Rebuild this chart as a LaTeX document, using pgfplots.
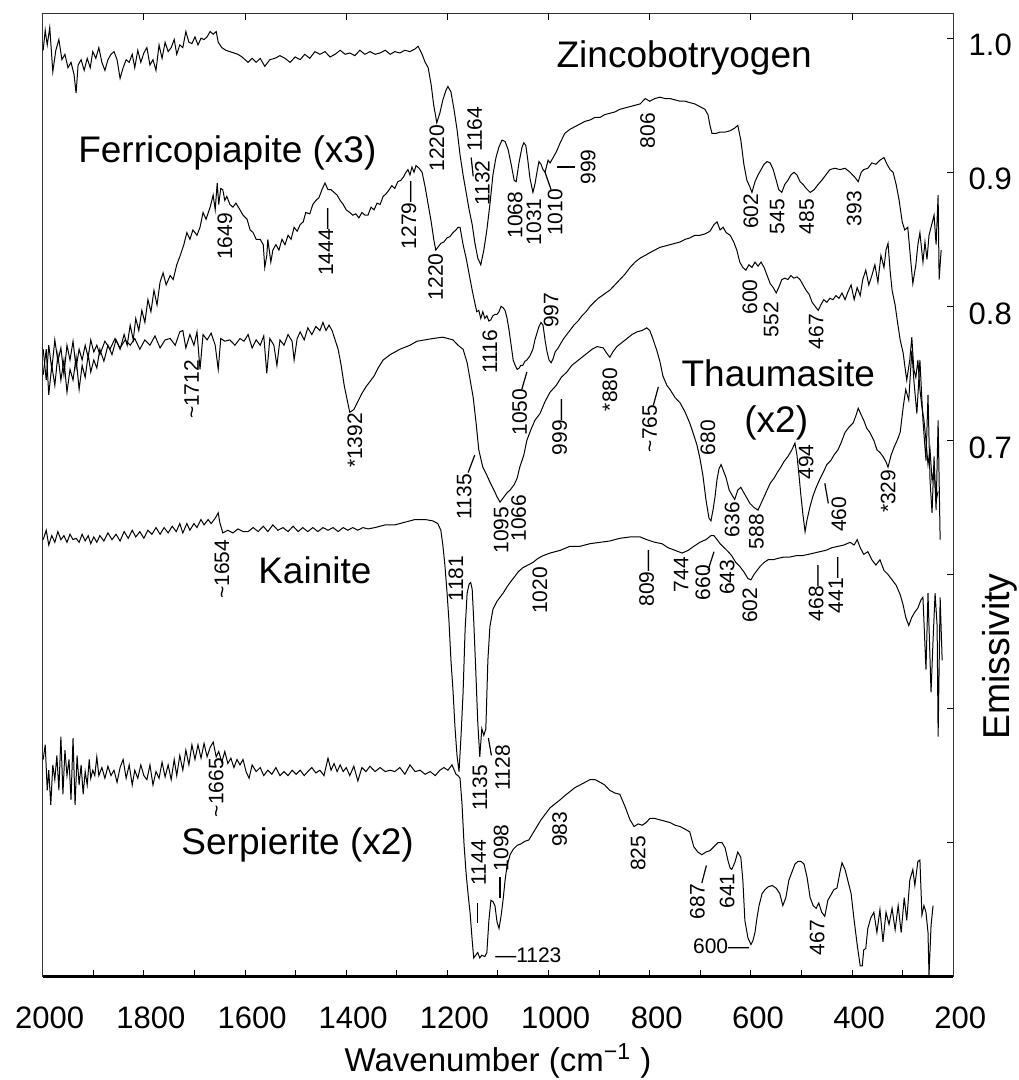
\documentclass[border=0pt]{standalone}
\usepackage{fontspec}
\setmainfont{Liberation Sans}
\usepackage{pgfplots}
\pgfplotsset{compat=1.18}
\usepackage{pgfplotstable}

\newcommand\tk{\fontsize{15.5}{18}\selectfont}
\newcommand\pk{\fontsize{10.5}{12}\selectfont}
\newcommand\spc{\fontsize{18.5}{22}\selectfont}
\newcommand\xl{\fontsize{16.5}{20}\selectfont}
\newcommand\yl{\fontsize{18.7}{22}\selectfont}

\tikzset{
  pk/.style={font=\pk, rotate=90, inner sep=0pt, anchor=center},
  pkh/.style={font=\pk, inner sep=0pt, anchor=center},
  ld/.style={black, line width=0.6pt},
  sp/.style={font=\spc, inner sep=0pt, anchor=base},
}

\pgfplotstableread[row sep=\\]{w E\\
1999 0.991\\ 1995 1.006\\ 1991 0.995\\ 1986 1.008\\ 1980 0.975\\ 1974 0.991\\ 1968 0.999\\ 1962 0.984\\ 1956 0.988\\ 1950 0.978\\ 1944 0.982\\ 1938 0.973\\ 1934 0.959\\ 1930 0.980\\ 1924 0.984\\ 1918 0.976\\ 1912 0.985\\ 1906 0.978\\ 1901 0.990\\ 1895 0.985\\ 1889 0.993\\ 1883 0.982\\ 1877 0.976\\ 1871 0.984\\ 1865 0.988\\ 1859 0.990\\ 1853 0.984\\ 1847 0.970\\ 1841 0.978\\ 1835 0.984\\ 1829 0.982\\ 1823 0.988\\ 1818 0.978\\ 1812 0.991\\ 1806 0.982\\ 1800 0.989\\ 1794 0.993\\ 1788 0.980\\ 1782 0.984\\ 1776 0.976\\ 1770 0.995\\ 1764 0.985\\ 1758 0.997\\ 1752 0.990\\ 1746 0.993\\ 1740 0.999\\ 1735 0.988\\ 1729 0.995\\ 1723 0.993\\ 1717 1.005\\ 1711 0.997\\ 1705 0.996\\ 1699 1.001\\ 1693 0.995\\ 1687 1.000\\ 1681 0.999\\ 1675 1.001\\ 1669 1.005\\ 1663 1.003\\ 1657 1.005\\ 1653 0.997\\ 1646 0.993\\ 1638 0.991\\ 1630 0.990\\ 1622 0.989\\ 1614 0.988\\ 1606 0.986\\ 1594 0.982\\ 1586 0.985\\ 1578 0.982\\ 1570 0.985\\ 1561 0.979\\ 1551 0.984\\ 1541 0.985\\ 1531 0.987\\ 1521 0.985\\ 1511 0.982\\ 1501 0.986\\ 1491 0.984\\ 1482 0.988\\ 1472 0.985\\ 1462 0.990\\ 1452 0.988\\ 1442 0.990\\ 1432 0.986\\ 1422 0.988\\ 1412 0.991\\ 1402 0.988\\ 1393 0.989\\ 1383 0.987\\ 1373 0.991\\ 1363 0.988\\ 1353 0.990\\ 1343 0.988\\ 1333 0.989\\ 1323 0.991\\ 1313 0.988\\ 1304 0.990\\ 1294 0.989\\ 1284 0.991\\ 1274 0.990\\ 1264 0.992\\ 1258 0.994\\ 1250 0.988\\ 1244 0.982\\ 1238 0.978\\ 1232 0.965\\ 1227 0.950\\ 1221 0.937\\ 1215 0.944\\ 1209 0.954\\ 1203 0.961\\ 1199 0.964\\ 1193 0.960\\ 1187 0.947\\ 1181 0.932\\ 1175 0.913\\ 1169 0.898\\ 1163 0.885\\ 1157 0.872\\ 1151 0.861\\ 1146 0.848\\ 1140 0.836\\ 1134 0.831\\ 1128 0.842\\ 1122 0.857\\ 1116 0.876\\ 1110 0.898\\ 1104 0.911\\ 1098 0.919\\ 1092 0.924\\ 1086 0.923\\ 1080 0.917\\ 1074 0.906\\ 1068 0.894\\ 1064 0.893\\ 1059 0.906\\ 1053 0.918\\ 1049 0.922\\ 1045 0.920\\ 1041 0.909\\ 1037 0.896\\ 1031 0.885\\ 1027 0.891\\ 1023 0.900\\ 1019 0.908\\ 1015 0.906\\ 1011 0.902\\ 1007 0.900\\ 1001 0.909\\ 997 0.907\\ 991 0.911\\ 985 0.915\\ 977 0.922\\ 968 0.929\\ 958 0.932\\ 948 0.934\\ 938 0.936\\ 928 0.938\\ 918 0.939\\ 908 0.941\\ 898 0.941\\ 889 0.943\\ 879 0.944\\ 869 0.945\\ 859 0.947\\ 849 0.948\\ 839 0.949\\ 829 0.950\\ 819 0.951\\ 809 0.955\\ 800 0.953\\ 790 0.955\\ 780 0.956\\ 770 0.955\\ 760 0.955\\ 750 0.954\\ 740 0.953\\ 730 0.953\\ 721 0.952\\ 711 0.951\\ 701 0.949\\ 691 0.947\\ 685 0.943\\ 681 0.935\\ 677 0.929\\ 669 0.929\\ 661 0.930\\ 651 0.930\\ 641 0.931\\ 632 0.933\\ 626 0.935\\ 620 0.924\\ 614 0.906\\ 608 0.894\\ 602 0.889\\ 598 0.885\\ 592 0.893\\ 586 0.898\\ 580 0.902\\ 574 0.906\\ 568 0.908\\ 562 0.907\\ 556 0.902\\ 550 0.894\\ 545 0.887\\ 539 0.885\\ 533 0.891\\ 527 0.894\\ 521 0.898\\ 515 0.900\\ 509 0.898\\ 503 0.893\\ 497 0.891\\ 491 0.888\\ 483 0.885\\ 475 0.887\\ 467 0.891\\ 460 0.894\\ 452 0.898\\ 444 0.902\\ 434 0.903\\ 424 0.902\\ 414 0.903\\ 404 0.900\\ 394 0.896\\ 388 0.893\\ 382 0.900\\ 377 0.902\\ 369 0.903\\ 361 0.907\\ 353 0.906\\ 345 0.909\\ 337 0.911\\ 331 0.906\\ 325 0.902\\ 319 0.900\\ 313 0.891\\ 307 0.879\\ 301 0.863\\ 296 0.857\\ 290 0.859\\ 286 0.842\\ 280 0.817\\ 274 0.831\\ 270 0.846\\ 266 0.855\\ 260 0.833\\ 256 0.848\\ 252 0.835\\ 248 0.853\\ 244 0.859\\ 238 0.868\\ 234 0.846\\ 230 0.883\\ 228 0.820\\ 224 0.842\\
}\zinc

\pgfplotstableread[row sep=\\]{w E\\
1999 0.749\\ 1993 0.768\\ 1988 0.734\\ 1982 0.756\\ 1976 0.741\\ 1970 0.764\\ 1964 0.745\\ 1958 0.760\\ 1952 0.736\\ 1946 0.753\\ 1940 0.745\\ 1934 0.762\\ 1928 0.738\\ 1922 0.756\\ 1916 0.747\\ 1910 0.764\\ 1905 0.751\\ 1899 0.760\\ 1893 0.754\\ 1887 0.768\\ 1879 0.759\\ 1871 0.771\\ 1863 0.764\\ 1855 0.775\\ 1847 0.768\\ 1839 0.779\\ 1833 0.771\\ 1827 0.786\\ 1821 0.775\\ 1816 0.791\\ 1810 0.782\\ 1804 0.797\\ 1798 0.788\\ 1792 0.805\\ 1786 0.796\\ 1780 0.812\\ 1774 0.801\\ 1768 0.818\\ 1762 0.825\\ 1756 0.816\\ 1748 0.823\\ 1742 0.820\\ 1735 0.831\\ 1729 0.837\\ 1721 0.846\\ 1715 0.855\\ 1709 0.850\\ 1703 0.857\\ 1695 0.853\\ 1689 0.859\\ 1683 0.870\\ 1677 0.865\\ 1669 0.874\\ 1663 0.883\\ 1659 0.872\\ 1655 0.892\\ 1652 0.876\\ 1648 0.888\\ 1644 0.887\\ 1640 0.879\\ 1636 0.882\\ 1630 0.876\\ 1624 0.874\\ 1618 0.877\\ 1610 0.872\\ 1604 0.868\\ 1596 0.865\\ 1590 0.857\\ 1584 0.855\\ 1578 0.850\\ 1570 0.850\\ 1564 0.846\\ 1561 0.829\\ 1557 0.838\\ 1555 0.850\\ 1549 0.833\\ 1545 0.842\\ 1539 0.846\\ 1533 0.842\\ 1527 0.850\\ 1521 0.846\\ 1515 0.853\\ 1509 0.850\\ 1503 0.859\\ 1497 0.856\\ 1491 0.861\\ 1485 0.863\\ 1480 0.870\\ 1472 0.869\\ 1466 0.876\\ 1460 0.879\\ 1454 0.881\\ 1448 0.887\\ 1442 0.892\\ 1436 0.887\\ 1430 0.887\\ 1424 0.885\\ 1418 0.883\\ 1412 0.879\\ 1406 0.876\\ 1400 0.872\\ 1393 0.870\\ 1387 0.868\\ 1381 0.869\\ 1375 0.866\\ 1369 0.870\\ 1363 0.868\\ 1357 0.868\\ 1351 0.874\\ 1345 0.872\\ 1339 0.877\\ 1333 0.876\\ 1327 0.882\\ 1321 0.884\\ 1315 0.887\\ 1310 0.890\\ 1304 0.888\\ 1298 0.893\\ 1292 0.894\\ 1286 0.897\\ 1282 0.900\\ 1278 0.902\\ 1274 0.898\\ 1270 0.904\\ 1266 0.900\\ 1262 0.905\\ 1256 0.903\\ 1250 0.900\\ 1244 0.889\\ 1238 0.876\\ 1232 0.863\\ 1227 0.850\\ 1223 0.842\\ 1219 0.844\\ 1213 0.847\\ 1207 0.848\\ 1201 0.851\\ 1195 0.852\\ 1189 0.855\\ 1183 0.857\\ 1179 0.859\\ 1175 0.859\\ 1169 0.846\\ 1163 0.836\\ 1157 0.824\\ 1151 0.812\\ 1146 0.803\\ 1142 0.796\\ 1138 0.797\\ 1134 0.791\\ 1130 0.796\\ 1126 0.791\\ 1122 0.793\\ 1118 0.789\\ 1114 0.790\\ 1110 0.793\\ 1106 0.794\\ 1102 0.794\\ 1098 0.796\\ 1094 0.800\\ 1090 0.799\\ 1086 0.797\\ 1082 0.791\\ 1078 0.782\\ 1074 0.771\\ 1070 0.760\\ 1066 0.756\\ 1062 0.753\\ 1058 0.754\\ 1055 0.756\\ 1051 0.756\\ 1047 0.759\\ 1043 0.760\\ 1037 0.763\\ 1031 0.768\\ 1027 0.775\\ 1023 0.780\\ 1019 0.785\\ 1015 0.788\\ 1011 0.786\\ 1007 0.775\\ 1003 0.766\\ 999 0.760\\ 995 0.758\\ 991 0.761\\ 987 0.766\\ 981 0.769\\ 975 0.773\\ 970 0.776\\ 964 0.779\\ 958 0.782\\ 950 0.786\\ 942 0.789\\ 934 0.793\\ 926 0.796\\ 918 0.800\\ 910 0.803\\ 902 0.806\\ 894 0.808\\ 887 0.810\\ 879 0.812\\ 869 0.816\\ 859 0.820\\ 849 0.824\\ 839 0.829\\ 829 0.833\\ 819 0.836\\ 809 0.838\\ 800 0.840\\ 790 0.842\\ 780 0.844\\ 770 0.845\\ 760 0.846\\ 750 0.847\\ 740 0.848\\ 730 0.850\\ 721 0.851\\ 711 0.853\\ 701 0.853\\ 691 0.854\\ 681 0.856\\ 673 0.861\\ 667 0.863\\ 661 0.857\\ 655 0.859\\ 649 0.855\\ 641 0.853\\ 634 0.848\\ 628 0.842\\ 622 0.833\\ 616 0.829\\ 610 0.827\\ 604 0.831\\ 598 0.829\\ 592 0.833\\ 586 0.830\\ 580 0.833\\ 574 0.829\\ 568 0.823\\ 562 0.817\\ 556 0.814\\ 550 0.810\\ 544 0.815\\ 539 0.820\\ 533 0.821\\ 527 0.820\\ 521 0.823\\ 515 0.821\\ 509 0.822\\ 503 0.820\\ 497 0.816\\ 491 0.812\\ 485 0.809\\ 479 0.803\\ 473 0.800\\ 467 0.797\\ 462 0.801\\ 456 0.805\\ 450 0.803\\ 444 0.806\\ 438 0.805\\ 432 0.808\\ 426 0.806\\ 420 0.810\\ 414 0.805\\ 408 0.811\\ 402 0.816\\ 396 0.805\\ 390 0.814\\ 384 0.808\\ 379 0.820\\ 373 0.827\\ 367 0.816\\ 361 0.823\\ 355 0.831\\ 349 0.818\\ 343 0.838\\ 337 0.829\\ 333 0.842\\ 329 0.847\\ 325 0.827\\ 321 0.812\\ 315 0.801\\ 311 0.790\\ 305 0.775\\ 299 0.765\\ 296 0.756\\ 292 0.745\\ 286 0.760\\ 282 0.777\\ 278 0.753\\ 274 0.747\\ 270 0.760\\ 266 0.738\\ 262 0.725\\ 258 0.715\\ 254 0.700\\ 250 0.682\\ 246 0.693\\ 242 0.670\\ 238 0.678\\ 234 0.655\\ 230 0.662\\
}\ferri

\pgfplotstableread[row sep=\\]{w E\\
1999 0.768\\ 1993 0.745\\ 1988 0.771\\ 1982 0.753\\ 1976 0.775\\ 1970 0.759\\ 1964 0.769\\ 1958 0.749\\ 1952 0.771\\ 1946 0.760\\ 1940 0.774\\ 1934 0.754\\ 1928 0.768\\ 1922 0.760\\ 1916 0.771\\ 1910 0.762\\ 1905 0.775\\ 1899 0.766\\ 1893 0.771\\ 1887 0.764\\ 1877 0.774\\ 1867 0.768\\ 1857 0.776\\ 1847 0.769\\ 1837 0.775\\ 1827 0.771\\ 1818 0.776\\ 1808 0.768\\ 1798 0.775\\ 1788 0.771\\ 1778 0.778\\ 1768 0.769\\ 1758 0.775\\ 1748 0.776\\ 1738 0.771\\ 1729 0.781\\ 1723 0.782\\ 1717 0.769\\ 1709 0.779\\ 1701 0.771\\ 1695 0.781\\ 1689 0.753\\ 1683 0.779\\ 1675 0.775\\ 1667 0.780\\ 1659 0.771\\ 1653 0.753\\ 1648 0.776\\ 1640 0.774\\ 1630 0.775\\ 1620 0.771\\ 1610 0.776\\ 1602 0.774\\ 1594 0.779\\ 1586 0.769\\ 1578 0.775\\ 1570 0.771\\ 1563 0.778\\ 1557 0.750\\ 1551 0.776\\ 1543 0.771\\ 1537 0.756\\ 1531 0.775\\ 1523 0.771\\ 1515 0.779\\ 1507 0.774\\ 1503 0.760\\ 1497 0.776\\ 1491 0.781\\ 1483 0.775\\ 1476 0.784\\ 1468 0.779\\ 1460 0.785\\ 1452 0.782\\ 1446 0.788\\ 1440 0.782\\ 1434 0.786\\ 1428 0.782\\ 1422 0.775\\ 1416 0.768\\ 1410 0.756\\ 1404 0.741\\ 1398 0.730\\ 1393 0.721\\ 1385 0.723\\ 1377 0.729\\ 1369 0.735\\ 1361 0.740\\ 1353 0.744\\ 1345 0.748\\ 1337 0.754\\ 1327 0.760\\ 1313 0.764\\ 1294 0.768\\ 1274 0.771\\ 1260 0.774\\ 1244 0.775\\ 1229 0.776\\ 1209 0.777\\ 1189 0.775\\ 1179 0.771\\ 1169 0.768\\ 1161 0.758\\ 1155 0.745\\ 1149 0.732\\ 1143 0.712\\ 1138 0.693\\ 1130 0.680\\ 1122 0.674\\ 1116 0.669\\ 1108 0.663\\ 1102 0.658\\ 1096 0.654\\ 1090 0.657\\ 1082 0.661\\ 1076 0.663\\ 1068 0.667\\ 1062 0.672\\ 1057 0.680\\ 1049 0.689\\ 1043 0.700\\ 1035 0.708\\ 1027 0.715\\ 1017 0.720\\ 1007 0.729\\ 997 0.736\\ 985 0.741\\ 975 0.747\\ 964 0.751\\ 954 0.756\\ 944 0.759\\ 934 0.762\\ 924 0.765\\ 914 0.768\\ 904 0.770\\ 892 0.769\\ 885 0.765\\ 879 0.762\\ 873 0.766\\ 865 0.770\\ 855 0.773\\ 845 0.776\\ 835 0.779\\ 825 0.781\\ 815 0.782\\ 806 0.784\\ 800 0.782\\ 794 0.776\\ 786 0.767\\ 780 0.759\\ 774 0.748\\ 766 0.741\\ 760 0.738\\ 750 0.732\\ 740 0.728\\ 730 0.721\\ 721 0.713\\ 713 0.704\\ 707 0.697\\ 701 0.687\\ 695 0.674\\ 689 0.656\\ 683 0.642\\ 679 0.640\\ 675 0.648\\ 671 0.658\\ 667 0.671\\ 663 0.679\\ 659 0.682\\ 655 0.678\\ 649 0.672\\ 643 0.663\\ 637 0.659\\ 632 0.656\\ 626 0.663\\ 620 0.665\\ 614 0.661\\ 608 0.657\\ 602 0.653\\ 594 0.650\\ 586 0.648\\ 580 0.653\\ 574 0.658\\ 568 0.663\\ 562 0.668\\ 554 0.672\\ 548 0.676\\ 541 0.680\\ 535 0.684\\ 527 0.688\\ 519 0.693\\ 513 0.698\\ 509 0.689\\ 505 0.674\\ 501 0.658\\ 497 0.644\\ 493 0.632\\ 489 0.641\\ 483 0.651\\ 477 0.659\\ 471 0.665\\ 464 0.671\\ 456 0.677\\ 450 0.682\\ 442 0.685\\ 436 0.689\\ 428 0.693\\ 422 0.698\\ 414 0.706\\ 406 0.710\\ 398 0.713\\ 392 0.719\\ 388 0.724\\ 382 0.719\\ 377 0.715\\ 371 0.709\\ 365 0.706\\ 357 0.700\\ 351 0.693\\ 345 0.691\\ 339 0.688\\ 333 0.684\\ 329 0.680\\ 323 0.689\\ 317 0.695\\ 311 0.700\\ 305 0.706\\ 299 0.725\\ 294 0.738\\ 288 0.730\\ 282 0.767\\ 278 0.745\\ 272 0.720\\ 266 0.760\\ 260 0.715\\ 254 0.685\\ 250 0.734\\ 246 0.670\\ 242 0.646\\ 238 0.688\\ 234 0.648\\ 230 0.715\\ 226 0.626\\
}\thaum

\pgfplotstableread[row sep=\\]{w E\\
1999 0.626\\ 1993 0.633\\ 1988 0.622\\ 1982 0.629\\ 1976 0.624\\ 1970 0.632\\ 1964 0.626\\ 1958 0.629\\ 1952 0.624\\ 1946 0.630\\ 1940 0.626\\ 1934 0.627\\ 1928 0.624\\ 1922 0.630\\ 1916 0.625\\ 1910 0.629\\ 1905 0.623\\ 1899 0.628\\ 1893 0.624\\ 1887 0.629\\ 1879 0.625\\ 1871 0.631\\ 1863 0.626\\ 1855 0.630\\ 1847 0.625\\ 1839 0.632\\ 1831 0.627\\ 1823 0.633\\ 1816 0.628\\ 1808 0.632\\ 1800 0.627\\ 1792 0.633\\ 1784 0.630\\ 1776 0.635\\ 1768 0.630\\ 1760 0.635\\ 1752 0.631\\ 1744 0.636\\ 1736 0.632\\ 1729 0.638\\ 1723 0.631\\ 1715 0.638\\ 1709 0.633\\ 1701 0.638\\ 1695 0.635\\ 1687 0.641\\ 1681 0.637\\ 1673 0.641\\ 1667 0.638\\ 1659 0.642\\ 1653 0.646\\ 1650 0.639\\ 1644 0.631\\ 1634 0.633\\ 1624 0.631\\ 1614 0.634\\ 1604 0.632\\ 1594 0.632\\ 1584 0.635\\ 1574 0.632\\ 1564 0.636\\ 1555 0.632\\ 1545 0.637\\ 1535 0.633\\ 1525 0.635\\ 1515 0.632\\ 1505 0.636\\ 1495 0.632\\ 1486 0.635\\ 1476 0.632\\ 1466 0.635\\ 1456 0.632\\ 1446 0.635\\ 1436 0.633\\ 1426 0.635\\ 1416 0.632\\ 1406 0.635\\ 1397 0.633\\ 1387 0.635\\ 1377 0.633\\ 1367 0.635\\ 1357 0.634\\ 1343 0.635\\ 1323 0.637\\ 1304 0.637\\ 1284 0.639\\ 1264 0.641\\ 1244 0.641\\ 1229 0.640\\ 1219 0.638\\ 1213 0.633\\ 1209 0.622\\ 1205 0.607\\ 1201 0.588\\ 1197 0.566\\ 1193 0.536\\ 1189 0.514\\ 1185 0.486\\ 1181 0.465\\ 1177 0.453\\ 1173 0.480\\ 1169 0.512\\ 1165 0.559\\ 1161 0.586\\ 1157 0.593\\ 1154 0.594\\ 1151 0.589\\ 1148 0.566\\ 1144 0.529\\ 1140 0.490\\ 1136 0.464\\ 1132 0.485\\ 1128 0.480\\ 1124 0.485\\ 1120 0.536\\ 1116 0.561\\ 1110 0.574\\ 1102 0.580\\ 1090 0.586\\ 1080 0.592\\ 1070 0.597\\ 1060 0.602\\ 1051 0.605\\ 1041 0.607\\ 1031 0.609\\ 1021 0.612\\ 1011 0.614\\ 997 0.616\\ 977 0.618\\ 958 0.621\\ 938 0.621\\ 918 0.623\\ 898 0.624\\ 879 0.625\\ 859 0.627\\ 839 0.628\\ 819 0.628\\ 806 0.626\\ 790 0.624\\ 776 0.623\\ 764 0.620\\ 750 0.618\\ 736 0.616\\ 724 0.618\\ 713 0.621\\ 701 0.624\\ 689 0.626\\ 679 0.629\\ 673 0.629\\ 667 0.626\\ 661 0.623\\ 653 0.620\\ 645 0.617\\ 638 0.614\\ 630 0.609\\ 622 0.606\\ 614 0.602\\ 606 0.597\\ 600 0.596\\ 594 0.600\\ 588 0.603\\ 582 0.606\\ 574 0.609\\ 566 0.611\\ 556 0.611\\ 547 0.612\\ 535 0.613\\ 523 0.613\\ 511 0.614\\ 499 0.614\\ 487 0.615\\ 475 0.616\\ 464 0.617\\ 452 0.618\\ 440 0.620\\ 428 0.621\\ 416 0.622\\ 404 0.624\\ 396 0.622\\ 390 0.626\\ 384 0.620\\ 377 0.615\\ 369 0.617\\ 361 0.611\\ 353 0.607\\ 345 0.611\\ 337 0.603\\ 329 0.600\\ 321 0.596\\ 313 0.592\\ 305 0.585\\ 299 0.577\\ 294 0.568\\ 288 0.562\\ 282 0.568\\ 276 0.572\\ 270 0.575\\ 264 0.581\\ 260 0.583\\ 254 0.529\\ 250 0.586\\ 244 0.512\\ 240 0.551\\ 236 0.586\\ 232 0.562\\ 230 0.479\\ 226 0.583\\ 222 0.536\\
}\kain

\pgfplotstableread[row sep=\\]{w E\\
1999 0.462\\ 1995 0.473\\ 1991 0.439\\ 1988 0.454\\ 1984 0.428\\ 1980 0.458\\ 1976 0.447\\ 1972 0.465\\ 1968 0.439\\ 1964 0.479\\ 1960 0.436\\ 1956 0.469\\ 1952 0.450\\ 1948 0.462\\ 1944 0.432\\ 1940 0.478\\ 1936 0.428\\ 1932 0.465\\ 1928 0.443\\ 1924 0.458\\ 1920 0.436\\ 1916 0.453\\ 1912 0.443\\ 1908 0.462\\ 1905 0.448\\ 1901 0.454\\ 1897 0.450\\ 1893 0.464\\ 1889 0.450\\ 1883 0.456\\ 1877 0.448\\ 1871 0.457\\ 1865 0.450\\ 1859 0.454\\ 1853 0.445\\ 1847 0.456\\ 1841 0.462\\ 1835 0.448\\ 1829 0.458\\ 1823 0.443\\ 1818 0.454\\ 1812 0.448\\ 1806 0.458\\ 1800 0.450\\ 1794 0.447\\ 1788 0.458\\ 1782 0.443\\ 1776 0.453\\ 1770 0.448\\ 1764 0.460\\ 1758 0.449\\ 1752 0.458\\ 1746 0.447\\ 1740 0.462\\ 1735 0.450\\ 1729 0.465\\ 1723 0.454\\ 1717 0.469\\ 1711 0.458\\ 1705 0.473\\ 1699 0.462\\ 1693 0.473\\ 1687 0.463\\ 1681 0.474\\ 1675 0.464\\ 1669 0.471\\ 1663 0.475\\ 1657 0.464\\ 1652 0.468\\ 1646 0.460\\ 1640 0.468\\ 1634 0.459\\ 1628 0.463\\ 1622 0.456\\ 1616 0.462\\ 1610 0.458\\ 1604 0.462\\ 1598 0.453\\ 1592 0.448\\ 1586 0.458\\ 1578 0.453\\ 1570 0.456\\ 1563 0.450\\ 1555 0.454\\ 1547 0.451\\ 1539 0.456\\ 1531 0.450\\ 1523 0.453\\ 1515 0.450\\ 1507 0.454\\ 1499 0.451\\ 1491 0.454\\ 1483 0.450\\ 1476 0.453\\ 1468 0.456\\ 1460 0.452\\ 1452 0.454\\ 1444 0.450\\ 1436 0.463\\ 1430 0.454\\ 1424 0.459\\ 1418 0.453\\ 1412 0.458\\ 1406 0.453\\ 1400 0.456\\ 1393 0.450\\ 1385 0.457\\ 1377 0.446\\ 1369 0.456\\ 1361 0.453\\ 1353 0.457\\ 1343 0.453\\ 1333 0.456\\ 1323 0.453\\ 1313 0.454\\ 1304 0.453\\ 1294 0.456\\ 1284 0.451\\ 1274 0.458\\ 1264 0.453\\ 1254 0.454\\ 1244 0.451\\ 1234 0.453\\ 1224 0.450\\ 1215 0.454\\ 1207 0.456\\ 1199 0.454\\ 1191 0.458\\ 1183 0.451\\ 1179 0.450\\ 1175 0.448\\ 1171 0.428\\ 1167 0.398\\ 1163 0.377\\ 1159 0.361\\ 1155 0.347\\ 1151 0.327\\ 1148 0.314\\ 1144 0.316\\ 1140 0.318\\ 1136 0.314\\ 1132 0.316\\ 1126 0.315\\ 1122 0.318\\ 1118 0.342\\ 1114 0.357\\ 1110 0.356\\ 1106 0.353\\ 1102 0.341\\ 1098 0.336\\ 1094 0.345\\ 1090 0.357\\ 1086 0.372\\ 1082 0.383\\ 1076 0.391\\ 1070 0.395\\ 1062 0.398\\ 1055 0.399\\ 1047 0.401\\ 1039 0.402\\ 1031 0.407\\ 1023 0.412\\ 1015 0.417\\ 1007 0.421\\ 997 0.426\\ 987 0.429\\ 977 0.432\\ 968 0.435\\ 958 0.438\\ 948 0.441\\ 938 0.443\\ 928 0.445\\ 918 0.447\\ 908 0.447\\ 898 0.445\\ 889 0.443\\ 879 0.439\\ 869 0.437\\ 859 0.436\\ 849 0.427\\ 839 0.417\\ 831 0.412\\ 823 0.414\\ 815 0.413\\ 807 0.415\\ 800 0.418\\ 790 0.418\\ 780 0.417\\ 770 0.416\\ 760 0.415\\ 750 0.413\\ 740 0.412\\ 730 0.410\\ 721 0.408\\ 713 0.397\\ 705 0.393\\ 697 0.391\\ 689 0.393\\ 681 0.394\\ 673 0.397\\ 665 0.400\\ 657 0.400\\ 651 0.396\\ 645 0.386\\ 641 0.381\\ 638 0.380\\ 632 0.385\\ 626 0.393\\ 620 0.389\\ 616 0.372\\ 612 0.342\\ 606 0.329\\ 600 0.324\\ 596 0.327\\ 592 0.333\\ 588 0.344\\ 584 0.353\\ 578 0.362\\ 572 0.365\\ 566 0.367\\ 558 0.368\\ 550 0.366\\ 543 0.362\\ 537 0.353\\ 531 0.359\\ 525 0.372\\ 519 0.378\\ 513 0.384\\ 507 0.386\\ 501 0.386\\ 495 0.384\\ 489 0.374\\ 483 0.359\\ 477 0.353\\ 471 0.351\\ 466 0.355\\ 460 0.348\\ 454 0.345\\ 448 0.357\\ 442 0.361\\ 436 0.365\\ 430 0.366\\ 424 0.378\\ 420 0.385\\ 414 0.380\\ 408 0.371\\ 402 0.362\\ 396 0.342\\ 390 0.324\\ 384 0.308\\ 380 0.308\\ 377 0.320\\ 373 0.321\\ 369 0.336\\ 363 0.344\\ 357 0.348\\ 351 0.333\\ 345 0.350\\ 339 0.326\\ 333 0.348\\ 327 0.339\\ 321 0.351\\ 315 0.335\\ 309 0.353\\ 303 0.333\\ 297 0.359\\ 292 0.342\\ 286 0.372\\ 280 0.380\\ 276 0.368\\ 270 0.386\\ 266 0.387\\ 262 0.346\\ 258 0.353\\ 254 0.348\\ 250 0.333\\ 248 0.301\\ 244 0.338\\ 240 0.353\\
}\serp

\begin{document}
\begin{tikzpicture}
\useasboundingbox (-21.35pt,-51.65pt) rectangle (487.65pt,488.35pt);
\begin{axis}[
  at={(0,0)}, anchor=south west,
  scale only axis, width=455.3pt, height=481.7pt,
  x dir=reverse, xmin=200, xmax=2000, ymin=0.3, ymax=1.0186,
  clip=false,
  axis line style={black!80, line width=0.5pt},
  xtick={200,400,600,800,1000,1200,1400,1600,1800,2000},
  xticklabels={200,400,600,800,1000,1200,1400,1600,1800,2000},
  minor xtick={300,500,700,900,1100,1300,1500,1700,1900},
  xtick pos=bottom,
  ytick={0.4,0.5,0.6,0.7,0.8,0.9,1.0},
  yticklabels={,,,0.7,0.8,0.9,1.0},
  ytick pos=right, yticklabel pos=right,
  major tick length=3.3pt, minor tick length=3.3pt,
  every tick/.style={black, line width=0.5pt},
  xticklabel style={font=\tk, inner sep=0pt, anchor=north, yshift=-15pt, xshift=3.5pt},
  yticklabel style={font=\tk, inner sep=0pt, anchor=west, xshift=7.5pt, yshift=-3.5pt},
]
\addplot[black, mark=none, line width=0.5pt] table[x=w, y=E] {\zinc};
\addplot[black, mark=none, line width=0.5pt] table[x=w, y=E] {\ferri};
\addplot[black, mark=none, line width=0.5pt] table[x=w, y=E] {\thaum};
\addplot[black, mark=none, line width=0.5pt] table[x=w, y=E] {\kain};
\addplot[black, mark=none, line width=0.5pt] table[x=w, y=E] {\serp};

\draw[line width=1.2pt] (axis cs:2000,0.3) -- (axis cs:200,0.3);

% species
\node[sp] at (axis cs:732,0.978) {Zincobotryogen};
\node[sp] at (axis cs:1635,0.907) {Ferricopiapite (x3)};
\node[sp] at (axis cs:546,0.740) {Thaumasite};
\node[sp] at (axis cs:550,0.706) {(x2)};
\node[sp] at (axis cs:1462,0.5935) {Kainite};
\node[sp] at (axis cs:1496,0.391) {Serpierite (x2)};

% Zincobotryogen
\node[pk] at (axis cs:1221,0.918) {1220};
\node[pk] at (axis cs:1146,0.932) {1164};
\node[pk] at (axis cs:1131,0.892) {1132};
\draw[ld] (axis cs:1153,0.911) -- (axis cs:1149,0.897);
\node[pk] at (axis cs:1066,0.868) {1068};
\node[pk] at (axis cs:1029,0.863) {1031};
\node[pk] at (axis cs:987,0.870) {1010};
\draw[ld] (axis cs:1007,0.900) -- (axis cs:995,0.887);
\node[pk] at (axis cs:922,0.904) {999};
\draw[ld] (axis cs:983,0.904) -- (axis cs:948,0.904);
\node[pk] at (axis cs:804,0.931) {806};
\node[pk] at (axis cs:600,0.871) {602};
\node[pk] at (axis cs:548,0.867) {545};
\node[pk] at (axis cs:490,0.867) {485};
\node[pk] at (axis cs:396,0.873) {393};

% Ferricopiapite
\node[pk] at (axis cs:1640,0.852) {1649};
\node[pk] at (axis cs:1440,0.848) {1444—};
\node[pk] at (axis cs:1276,0.868) {1279—};
\node[pk] at (axis cs:1223,0.822) {1220};
\node[pk] at (axis cs:1116,0.766) {1116};
\node[pk] at (axis cs:1057,0.721) {1050};
\draw[ld] (axis cs:1053,0.738) -- (axis cs:1043,0.751);
\node[pk] at (axis cs:995,0.797) {997};
\node[pk] at (axis cs:602,0.807) {600};
\node[pk] at (axis cs:560,0.790) {552};
\node[pk] at (axis cs:471,0.781) {467};

% Thaumasite
\node[pk] at (axis cs:1706,0.738) {\textasciitilde1712};
\node[pk] at (axis cs:1383,0.700) {*1392};
\node[pk] at (axis cs:1167,0.658) {1135};
\draw[ld] (axis cs:1159,0.676) -- (axis cs:1146,0.689);
\node[pk] at (axis cs:1094,0.633) {1095};
\node[pk] at (axis cs:1059,0.642) {1066};
\node[pk] at (axis cs:978,0.710) {999—};
\node[pk] at (axis cs:879,0.738) {*880};
\node[pk] at (axis cs:800,0.709) {\textasciitilde765};
\draw[ld] (axis cs:793,0.726) -- (axis cs:783,0.740);
\node[pk] at (axis cs:685,0.702) {680};
\node[pk] at (axis cs:637,0.641) {636};
\node[pk] at (axis cs:589,0.632) {588};
\node[pk] at (axis cs:491,0.684) {494};
\node[pk] at (axis cs:426,0.645) {460};
\draw[ld] (axis cs:454,0.668) -- (axis cs:447,0.653);
\node[pk] at (axis cs:329,0.662) {*329};

% Kainite
\node[pk] at (axis cs:1646,0.604) {\textasciitilde1654};
\node[pk] at (axis cs:1183,0.597) {1181};
\node[pk] at (axis cs:1136,0.441) {1135};
\node[pk] at (axis cs:1091,0.456) {1128};
\draw[ld] (axis cs:1119,0.478) -- (axis cs:1113,0.465);
\node[pk] at (axis cs:1017,0.588) {1020};
\node[pk] at (axis cs:806,0.597) {809—};
\node[pk] at (axis cs:738,0.600) {744};
\node[pk] at (axis cs:695,0.594) {660};
\draw[ld] (axis cs:685,0.603) -- (axis cs:673,0.617);
\node[pk] at (axis cs:647,0.598) {643};
\node[pk] at (axis cs:602,0.577) {602};
\node[pk] at (axis cs:471,0.586) {468—};
\node[pk] at (axis cs:432,0.592) {441—};

% Serpierite
\node[pk] at (axis cs:1657,0.441) {\textasciitilde1665};
\node[pk] at (axis cs:1138,0.385) {1144};
\draw[ld] (axis cs:1141,0.355) -- (axis cs:1141,0.340);
\node[pk] at (axis cs:1094,0.396) {1098};
\draw[ld] (axis cs:1096,0.374) -- (axis cs:1096,0.359);
\node[pkh] at (axis cs:1040,0.316) {—1123};
\node[pk] at (axis cs:978,0.410) {983};
\node[pk] at (axis cs:823,0.392) {825};
\node[pk] at (axis cs:706,0.356) {687};
\draw[ld] (axis cs:697,0.370) -- (axis cs:688,0.383);
\node[pk] at (axis cs:647,0.364) {641};
\node[pkh] at (axis cs:659,0.323) {600—};
\node[pk] at (axis cs:469,0.329) {467};

% axis labels
\node[font=\xl, anchor=base, inner sep=0pt] at (axis cs:1100,0.2291) {Wavenumber (cm\textsuperscript{−1} )};
\node[font=\yl, rotate=90, anchor=base, inner sep=0pt] at (axis cs:88.5,0.5387) {Emissivity};
\end{axis}
\begin{axis}[
  at={(0,0)}, anchor=south west,
  scale only axis, width=455.3pt, height=481.7pt,
  x dir=reverse, xmin=200, xmax=2000, ymin=0.3, ymax=1.0186,
  axis line style={draw=none},
  xtick={400,600,800,1000,1200,1400,1600,1800},
  xticklabels={}, xtick pos=top,
  ytick=\empty,
  major tick length=3.3pt,
  every tick/.style={black, line width=0.5pt},
]
\end{axis}
\end{tikzpicture}
\end{document}
